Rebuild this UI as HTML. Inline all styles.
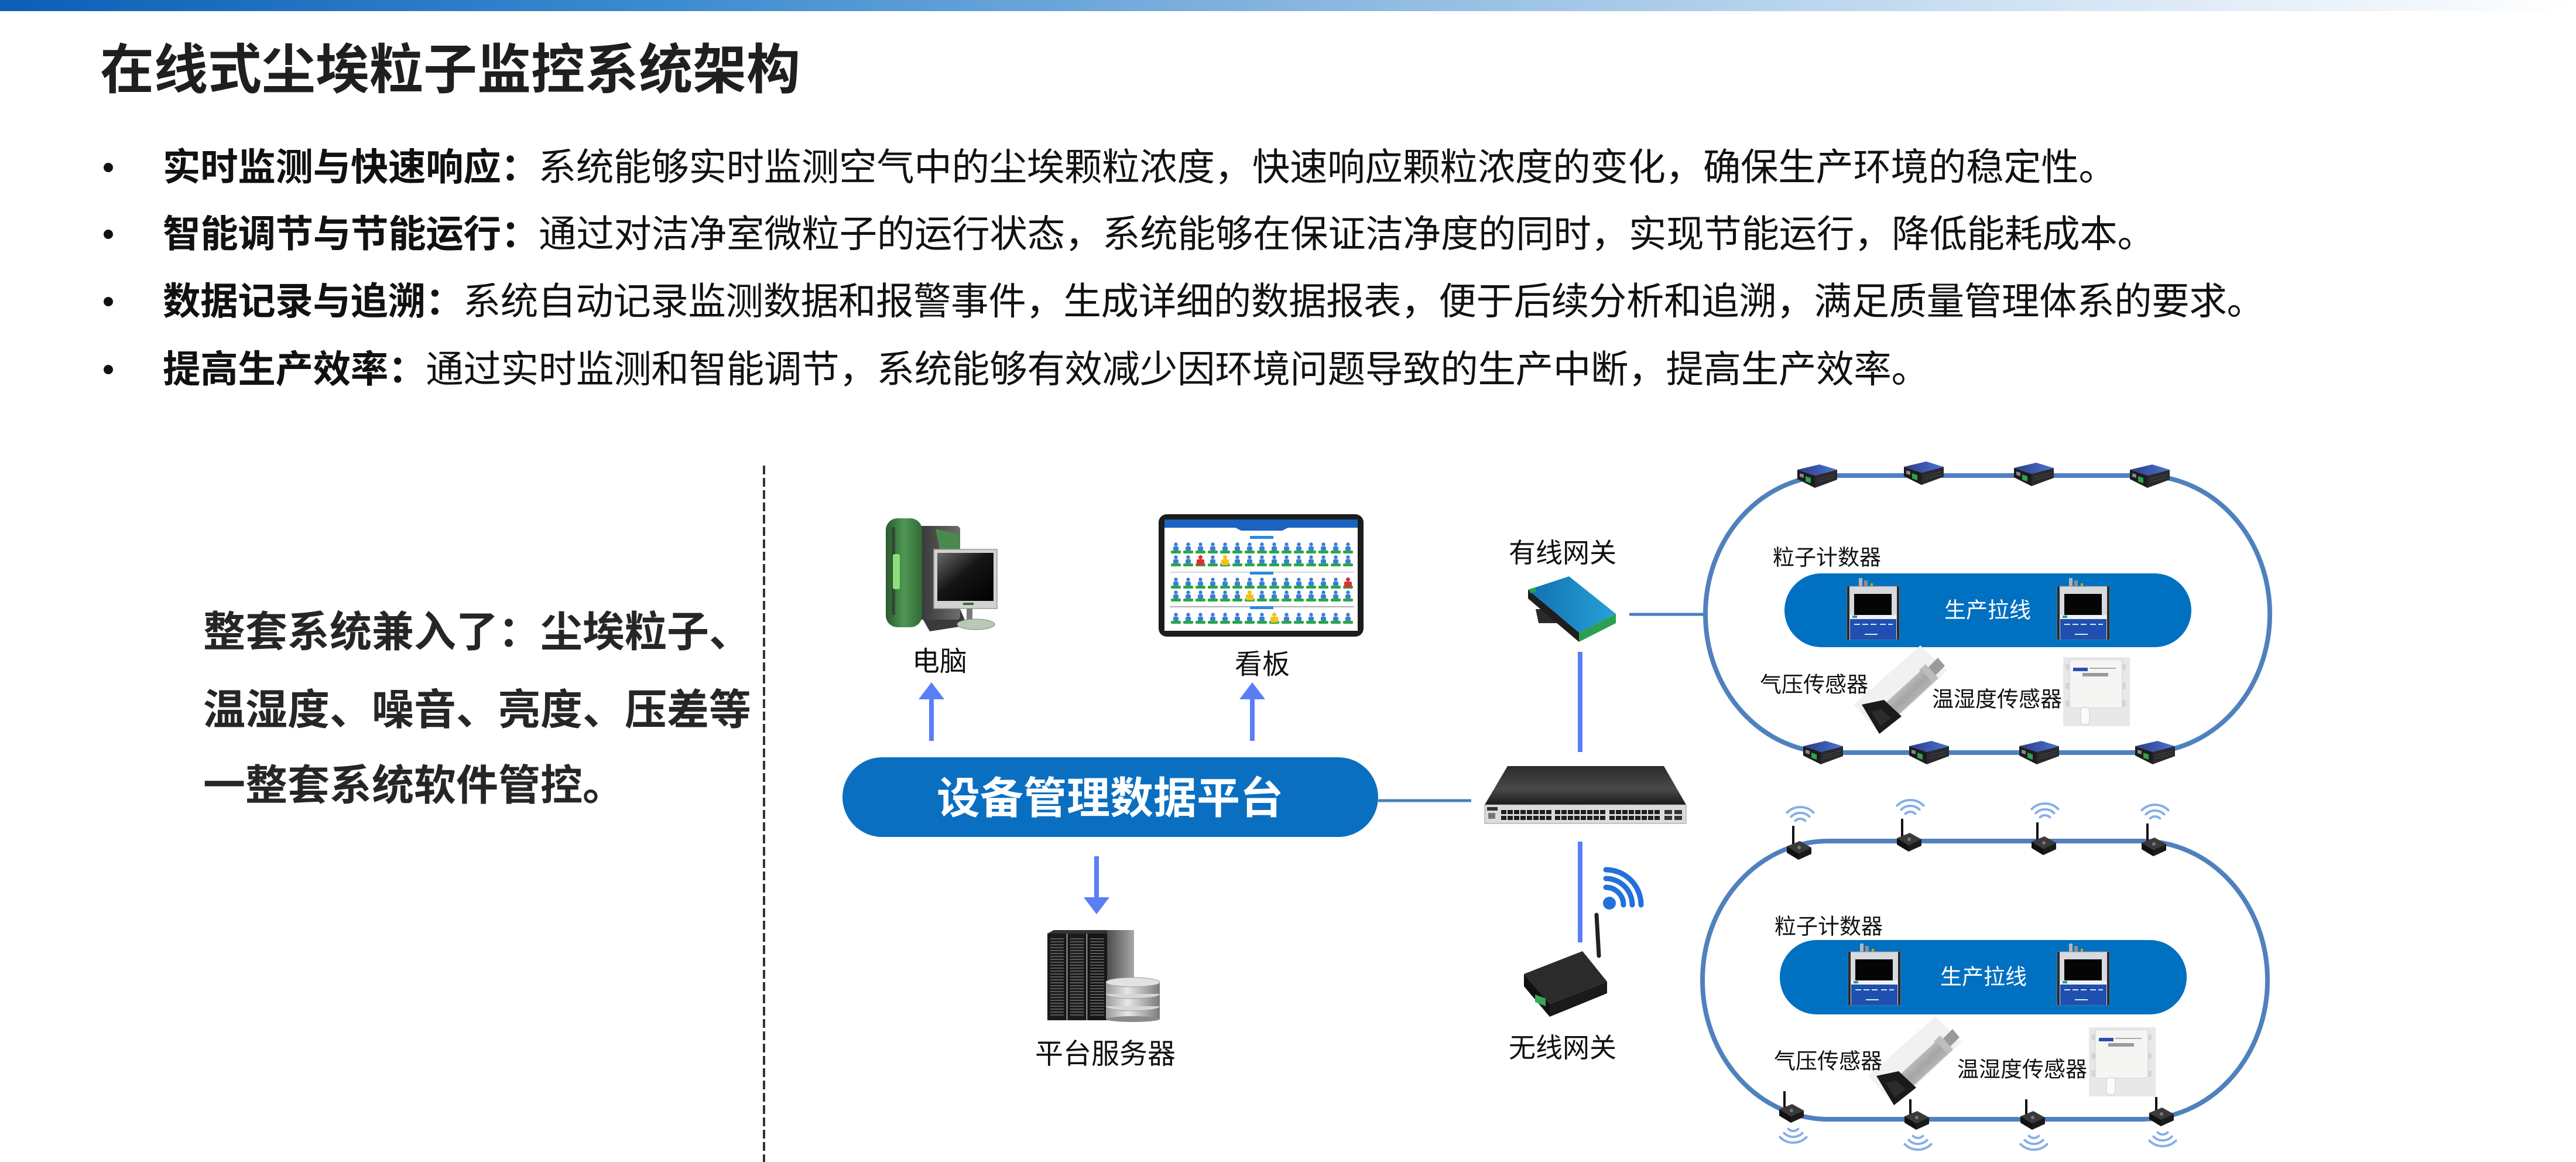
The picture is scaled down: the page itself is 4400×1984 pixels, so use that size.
<!DOCTYPE html>
<html><head><meta charset="utf-8">
<style>
html,body{margin:0;padding:0;background:#fff;}
body{width:4400px;height:1984px;overflow:hidden;}
svg{display:block;}
text{font-family:"Liberation Sans","Noto Sans CJK SC",sans-serif;}
</style></head><body>
<svg width="4400" height="1984" viewBox="0 0 4400 1984" xmlns="http://www.w3.org/2000/svg">
<defs>
 <linearGradient id="topg" x1="0" x2="1" y1="0" y2="0">
  <stop offset="0" stop-color="#0b5fb5"/>
  <stop offset="0.25" stop-color="#3a8ad0"/>
  <stop offset="0.5" stop-color="#86b5df"/>
  <stop offset="0.78" stop-color="#cfe2f3"/>
  <stop offset="1" stop-color="#ffffff"/>
 </linearGradient>
 <linearGradient id="rtTop" x1="0" x2="1" y1="0" y2="0">
  <stop offset="0" stop-color="#2d3b85"/>
  <stop offset="1" stop-color="#4c74d6"/>
 </linearGradient>
 <linearGradient id="greenT" x1="0" x2="1">
  <stop offset="0" stop-color="#2a5a2e"/>
  <stop offset="0.5" stop-color="#4f9655"/>
  <stop offset="1" stop-color="#2f6a34"/>
 </linearGradient>
 <linearGradient id="bodyT" x1="0" x2="1">
  <stop offset="0" stop-color="#2a2a2a"/>
  <stop offset="1" stop-color="#6d6d6d"/>
 </linearGradient>
 <linearGradient id="scr" x1="0" y1="0" x2="1" y2="1">
  <stop offset="0" stop-color="#6a6a6a"/>
  <stop offset="0.45" stop-color="#151515"/>
  <stop offset="1" stop-color="#000"/>
 </linearGradient>
 <linearGradient id="swTop" x1="0" x2="0" y1="0" y2="1">
  <stop offset="0" stop-color="#2a2a2a"/>
  <stop offset="0.6" stop-color="#4a4a4a"/>
  <stop offset="1" stop-color="#1a1a1a"/>
 </linearGradient>
 <linearGradient id="gwTop" x1="0" x2="1" y1="0" y2="0">
  <stop offset="0" stop-color="#1070b0"/>
  <stop offset="1" stop-color="#28a0d8"/>
 </linearGradient>
 <linearGradient id="silver" x1="0" x2="1" y1="0" y2="1">
  <stop offset="0" stop-color="#f2f2f2"/>
  <stop offset="0.5" stop-color="#a5a5a5"/>
  <stop offset="1" stop-color="#dcdcdc"/>
 </linearGradient>
 <linearGradient id="dbS" x1="0" x2="1">
  <stop offset="0" stop-color="#9a9a9a"/>
  <stop offset="0.4" stop-color="#e8e8e8"/>
  <stop offset="1" stop-color="#7a7a7a"/>
 </linearGradient>
 <linearGradient id="srvSide" x1="0" x2="1">
  <stop offset="0" stop-color="#4d4d4d"/>
  <stop offset="1" stop-color="#a8a8a8"/>
 </linearGradient>
 <pattern id="fig" width="21" height="22" patternUnits="userSpaceOnUse">
  <circle cx="10.5" cy="4.5" r="3.2" fill="#3b7dd8"/>
  <rect x="6" y="8" width="9" height="7" rx="2" fill="#3b7dd8"/>
  <rect x="2" y="15" width="17" height="5" rx="2" fill="#27a844"/>
 </pattern>
 <pattern id="port" width="11" height="10" patternUnits="userSpaceOnUse">
  <rect x="1" y="1" width="9" height="7" fill="#1e1e1e"/>
 </pattern>
 <pattern id="grill" width="6" height="5" patternUnits="userSpaceOnUse">
  <rect x="0" y="0" width="6" height="2" fill="#5a5a5a"/>
 </pattern>
 <g id="rt">
  <polygon points="2,10 32,20 32,41 2,26" fill="#1c1c1e"/>
  <polygon points="32,20 70,10 70,27 32,41" fill="#2a2a2e"/>
  <polygon points="2,10 40,1 70,10 32,20" fill="url(#rtTop)"/>
  <polygon points="6,16 13,18 13,24 6,22" fill="#888"/>
  <polygon points="16,21 25,24 25,33 16,30" fill="#2fa24a"/>
  <line x1="36" y1="26" x2="66" y2="18" stroke="#4a4a4a" stroke-width="1"/>
  <line x1="36" y1="31" x2="66" y2="23" stroke="#4a4a4a" stroke-width="1"/>
 </g>
 <g id="wn">
  <polygon points="-20,-5 2,-14 22,-3 0,7" fill="#3a3a3a"/>
  <polygon points="-20,-5 0,7 0,18 -20,6" fill="#111"/>
  <polygon points="0,7 22,-3 22,8 0,18" fill="#1b1b1b"/>
  <circle cx="1" cy="-3" r="3" fill="#777"/>
 </g>
 <g id="wu" fill="none" stroke="#86aee8" stroke-width="4" stroke-linecap="round">
  <path d="M -8.5,-8.5 A 12 12 0 0 1 8.5,-8.5"/>
  <path d="M -15.6,-15.6 A 22 22 0 0 1 15.6,-15.6"/>
  <path d="M -22.6,-22.6 A 32 32 0 0 1 22.6,-22.6"/>
 </g>
 <g id="wd" fill="none" stroke="#86aee8" stroke-width="4" stroke-linecap="round">
  <path d="M -8.5,8.5 A 12 12 0 0 0 8.5,8.5"/>
  <path d="M -15.6,15.6 A 22 22 0 0 0 15.6,15.6"/>
  <path d="M -22.6,22.6 A 32 32 0 0 0 22.6,22.6"/>
 </g>
 <g id="pc">
  <rect x="20" y="0" width="6" height="16" fill="#b5b5b5"/>
  <rect x="29" y="4" width="6" height="12" fill="#8f8f8f"/>
  <rect x="40" y="9" width="4" height="7" fill="#c9a227"/>
  <rect x="0" y="14" width="89" height="91" fill="#d6d9de" stroke="#888" stroke-width="1"/>
  <rect x="0" y="14" width="4" height="91" fill="#2a2a2a"/>
  <rect x="85" y="14" width="4" height="91" fill="#2a2a2a"/>
  <rect x="12" y="27" width="64" height="36" fill="#050505"/>
  <rect x="5" y="63" width="79" height="7" fill="#eef2f8"/>
  <rect x="9" y="64" width="8" height="4" fill="#2a9a8a"/>
  <rect x="5" y="70" width="79" height="35" fill="#1f4fb0"/>
  <g fill="#dfe6f5">
   <rect x="12" y="78" width="10" height="2"/><rect x="26" y="78" width="10" height="2"/><rect x="40" y="78" width="10" height="2"/><rect x="56" y="78" width="10" height="2"/><rect x="70" y="78" width="8" height="2"/>
   <rect x="30" y="95" width="22" height="2"/>
  </g>
 </g>
 <g id="hs">
  <rect x="0" y="0" width="114" height="118" fill="#e8e8ea"/>
  <rect x="4" y="12" width="8" height="10" fill="#d5d5d5"/>
  <rect x="4" y="44" width="8" height="10" fill="#d5d5d5"/>
  <rect x="4" y="74" width="8" height="10" fill="#d5d5d5"/>
  <rect x="99" y="12" width="8" height="10" fill="#d5d5d5"/>
  <rect x="99" y="44" width="8" height="10" fill="#d5d5d5"/>
  <rect x="99" y="74" width="8" height="10" fill="#d5d5d5"/>
  <rect x="11" y="4" width="90" height="83" rx="4" fill="#f5f5f3" stroke="#cfcfcf"/>
  <rect x="17" y="18" width="25" height="6" fill="#2a4fb0"/>
  <rect x="45" y="18" width="45" height="2" fill="#aaa"/>
  <rect x="33" y="27" width="44" height="6" fill="#9a9a9a"/>
  <rect x="30" y="86" width="15" height="29" rx="5" fill="#fbfbfb" stroke="#cccccc"/>
 </g>
 <g id="ps">
  <polygon points="3280,1102 3326,1145 3212,1254 3166,1203" fill="#f1f1f1"/>
  <polygon points="3310,1123 3322,1137 3306,1153 3294,1139" fill="#9a9a9a"/>
  <polygon points="3289,1134 3311,1158 3300,1168 3278,1144" fill="#bdbdbd"/>
  <polygon points="3282,1144 3302,1166 3242,1221 3222,1199" fill="url(#silver)"/>
  <polygon points="3180,1203 3218,1195 3248,1223 3210,1253" fill="#1a1a1a"/>
  <polygon points="3196,1215 3214,1211 3230,1226 3212,1240" fill="#2c2c2c"/>
 </g>
</defs>

<!-- top bar -->
<rect x="0" y="0" width="4400" height="19" fill="url(#topg)"/>

<!-- title -->
<text x="171" y="120" font-size="92" font-weight="700" fill="#1f1f1f" dominant-baseline="central">在线式尘埃粒子监控系统架构</text>

<!-- bullets -->
<g fill="#111">
 <circle cx="185" cy="286" r="8"/>
 <circle cx="185" cy="400" r="8"/>
 <circle cx="185" cy="515" r="8"/>
 <circle cx="185" cy="631" r="8"/>
</g>
<text x="278" y="286" font-size="64.5" fill="#111" dominant-baseline="central" textLength="3337" lengthAdjust="spacing"><tspan font-weight="700">实时监测与快速响应：</tspan>系统能够实时监测空气中的尘埃颗粒浓度，快速响应颗粒浓度的变化，确保生产环境的稳定性。</text>
<text x="278" y="400" font-size="64.5" fill="#111" dominant-baseline="central" textLength="3403" lengthAdjust="spacing"><tspan font-weight="700">智能调节与节能运行：</tspan>通过对洁净室微粒子的运行状态，系统能够在保证洁净度的同时，实现节能运行，降低能耗成本。</text>
<text x="278" y="515" font-size="64.5" fill="#111" dominant-baseline="central" textLength="3590" lengthAdjust="spacing"><tspan font-weight="700">数据记录与追溯：</tspan>系统自动记录监测数据和报警事件，生成详细的数据报表，便于后续分析和追溯，满足质量管理体系的要求。</text>
<text x="278" y="631" font-size="64.5" fill="#111" dominant-baseline="central" textLength="3017" lengthAdjust="spacing"><tspan font-weight="700">提高生产效率：</tspan>通过实时监测和智能调节，系统能够有效减少因环境问题导致的生产中断，提高生产效率。</text>

<!-- left block text -->
<text x="347" y="1080" font-size="72" font-weight="700" fill="#262626" dominant-baseline="central">整套系统兼入了：尘埃粒子、</text>
<text x="347" y="1213" font-size="72" font-weight="700" fill="#262626" dominant-baseline="central">温湿度、噪音、亮度、压差等</text>
<text x="347" y="1342" font-size="72" font-weight="700" fill="#262626" dominant-baseline="central">一整套系统软件管控。</text>

<!-- dashed divider -->
<line x1="1305" y1="795" x2="1305" y2="1984" stroke="#333" stroke-width="4" stroke-dasharray="15 6"/>

<!-- computer -->
<polygon points="1575,1055 1640,1040 1652,1068 1588,1078" fill="#3a3a3a"/>
<rect x="1556" y="898" width="84" height="160" rx="6" fill="url(#bodyT)"/>
<polygon points="1598,903 1638,912 1640,948 1606,942" fill="#4b8a4f"/>
<rect x="1513" y="885" width="62" height="186" rx="20" fill="url(#greenT)"/>
<rect x="1523" y="900" width="6" height="150" fill="#2b2b2b" opacity="0.6"/>
<rect x="1525" y="946" width="12" height="60" rx="3" fill="#8be07a"/>
<rect x="1595" y="938" width="108" height="101" fill="#d2d2d2" stroke="#9a9a9a" stroke-width="1.5"/>
<rect x="1601" y="944" width="96" height="82" fill="url(#scr)"/>
<rect x="1645" y="1029" width="18" height="4" fill="#3a6a3a"/>
<rect x="1651" y="1039" width="10" height="24" fill="#7a7a7a"/>
<ellipse cx="1667" cy="1066" rx="32" ry="9" fill="#b8c9b6" stroke="#7a8a7a"/>
<text x="1605" y="1129" font-size="47" fill="#111" text-anchor="middle" dominant-baseline="central">电脑</text>

<!-- tablet -->
<rect x="1979" y="878" width="350" height="209" rx="14" fill="#1c1c1c"/>
<rect x="1989" y="887" width="330" height="190" fill="#ffffff"/>
<rect x="1989" y="887" width="330" height="14" fill="#1a63c0"/>
<polygon points="2110,901 2200,901 2190,906 2120,906" fill="#1a63c0"/>
<rect x="2135" y="915" width="40" height="5" fill="#2a8ae0"/>
<line x1="1998" y1="977" x2="2313" y2="977" stroke="#c8c8c8" stroke-width="1.5"/>
<rect x="2135" y="976" width="40" height="5" fill="#2a8ae0"/>
<line x1="1998" y1="1036" x2="2313" y2="1036" stroke="#b0b0b0" stroke-width="2"/>
<rect x="2135" y="1035" width="40" height="5" fill="#2a8ae0"/>
<g transform="translate(1998,925)"><rect width="315" height="44" fill="url(#fig)"/></g>
<g transform="translate(1998,985)"><rect width="315" height="44" fill="url(#fig)"/></g>
<g transform="translate(1998,1045)"><rect width="315" height="22" fill="url(#fig)"/></g>
<g fill="#d83030"><circle cx="2050.5" cy="951.5" r="3.5"/><rect x="2044" y="955" width="13" height="10" rx="2"/></g>
<g fill="#f2c21a"><circle cx="2092.5" cy="951.5" r="3.5"/><rect x="2086" y="955" width="13" height="10" rx="2"/></g>
<g fill="#f2c21a"><circle cx="2134.5" cy="1011.5" r="3.5"/><rect x="2128" y="1015" width="13" height="10" rx="2"/></g>
<g fill="#d83030"><circle cx="2302.5" cy="989.5" r="3.5"/><rect x="2296" y="993" width="13" height="10" rx="2"/></g>
<g fill="#f2c21a"><circle cx="2176.5" cy="1049.5" r="3.5"/><rect x="2170" y="1053" width="13" height="10" rx="2"/></g>
<text x="2156" y="1134" font-size="47" fill="#111" text-anchor="middle" dominant-baseline="central">看板</text>

<!-- arrows -->
<g fill="#5a7ef5">
 <polygon points="1591,1165 1613,1194 1569,1194"/>
 <rect x="1587" y="1190" width="8" height="75"/>
 <polygon points="2139,1165 2161,1194 2117,1194"/>
 <rect x="2135" y="1190" width="8" height="75"/>
 <rect x="1869" y="1462" width="8" height="72"/>
 <polygon points="1851,1532 1895,1532 1873,1561"/>
</g>

<!-- platform pill -->
<rect x="1439" y="1293" width="915" height="136" rx="68" ry="68" fill="#0a6fc1"/>
<text x="1896" y="1363" font-size="74" font-weight="700" fill="#ffffff" text-anchor="middle" dominant-baseline="central">设备管理数据平台</text>
<line x1="2354" y1="1367" x2="2513" y2="1367" stroke="#4a7ebb" stroke-width="5"/>

<!-- server -->
<polygon points="1789,1594 1800,1588 1891,1588 1891,1594" fill="#333"/>
<rect x="1891" y="1588" width="46" height="154" fill="url(#srvSide)"/>
<rect x="1789" y="1594" width="33" height="148" fill="#1a1a1a"/>
<rect x="1823" y="1594" width="33" height="148" fill="#1c1c1c"/>
<rect x="1857" y="1594" width="34" height="148" fill="#161616"/>
<g transform="translate(1794,1602)"><rect width="23" height="132" fill="url(#grill)"/></g>
<g transform="translate(1828,1602)"><rect width="23" height="132" fill="url(#grill)"/></g>
<g transform="translate(1862,1602)"><rect width="24" height="132" fill="url(#grill)"/></g>
<rect x="1889" y="1718" width="92" height="22" fill="url(#dbS)"/>
<ellipse cx="1935" cy="1740" rx="46" ry="5" fill="#8a8a8a"/>
<ellipse cx="1935" cy="1718" rx="46" ry="8" fill="#d6d6d6" stroke="#999"/>
<rect x="1889" y="1697" width="92" height="21" fill="url(#dbS)"/>
<ellipse cx="1935" cy="1697" rx="46" ry="8" fill="#d6d6d6" stroke="#999"/>
<rect x="1889" y="1677" width="92" height="20" fill="url(#dbS)"/>
<ellipse cx="1935" cy="1677" rx="46" ry="8" fill="#e2e2e2" stroke="#999"/>
<text x="1888" y="1800" font-size="48" fill="#111" text-anchor="middle" dominant-baseline="central">平台服务器</text>

<!-- wired gateway -->
<text x="2669" y="944" font-size="46" fill="#111" text-anchor="middle" dominant-baseline="central">有线网关</text>
<polygon points="2623,1040 2660,1040 2664,1064 2628,1064" fill="#2a2a2a"/>
<polygon points="2610,1007 2697,1080 2697,1096 2610,1022" fill="#1e1e1e"/>
<polygon points="2697,1080 2760,1048 2760,1064 2697,1096" fill="#2aa050"/>
<polygon points="2610,1007 2680,984 2760,1048 2697,1080" fill="url(#gwTop)"/>
<polygon points="2612,1006 2622,1003 2624,1010 2614,1013" fill="#2aa050"/>
<line x1="2783" y1="1049" x2="2913" y2="1049" stroke="#4a7ebb" stroke-width="5"/>

<!-- vertical connectors -->
<rect x="2695" y="1113" width="8" height="171" fill="#5a7ef5"/>
<rect x="2695" y="1437" width="8" height="172" fill="#5a7ef5"/>

<!-- switch -->
<polygon points="2536,1374 2575,1308 2842,1308 2880,1374" fill="url(#swTop)"/>
<rect x="2536" y="1374" width="344" height="32" fill="#dcdcdc" stroke="#9a9a9a" stroke-width="1"/>
<rect x="2540" y="1378" width="18" height="6" fill="#333"/>
<rect x="2542" y="1388" width="12" height="10" fill="#777"/>
<g transform="translate(2563,1382)"><rect width="88" height="20" fill="url(#port)"/></g>
<g transform="translate(2655,1382)"><rect width="88" height="20" fill="url(#port)"/></g>
<g transform="translate(2748,1382)"><rect width="88" height="20" fill="url(#port)"/></g>
<rect x="2843" y="1383" width="13" height="7" fill="#333"/>
<rect x="2860" y="1383" width="13" height="7" fill="#333"/>
<rect x="2843" y="1393" width="13" height="7" fill="#333"/>
<rect x="2860" y="1393" width="13" height="7" fill="#333"/>

<!-- wifi icon -->
<g fill="none" stroke="#2270dc" stroke-width="9" stroke-linecap="round">
 <path d="M 2743,1515 A 30 30 0 0 1 2773,1545"/>
 <path d="M 2743,1500 A 45 45 0 0 1 2788,1545"/>
 <path d="M 2743,1485 A 60 60 0 0 1 2803,1545"/>
</g>
<circle cx="2749" cy="1542" r="11" fill="#2270dc"/>

<!-- wireless gateway -->
<line x1="2727" y1="1562" x2="2731" y2="1632" stroke="#222" stroke-width="7" stroke-linecap="round"/>
<polygon points="2603,1663 2647,1714 2647,1736 2603,1684" fill="#111"/>
<polygon points="2647,1714 2745,1676 2745,1696 2647,1736" fill="#1a1a1a"/>
<polygon points="2603,1663 2703,1624 2745,1676 2647,1714" fill="#2b2b2b"/>
<polygon points="2622,1698 2640,1705 2640,1718 2622,1711" fill="#3aa655"/>
<text x="2669" y="1789" font-size="46" fill="#111" text-anchor="middle" dominant-baseline="central">无线网关</text>

<!-- TOP OVAL -->
<rect x="2913" y="812" width="964" height="473" rx="215" ry="236" fill="none" stroke="#4f81bd" stroke-width="8"/>
<use href="#rt" x="3068" y="792"/>
<use href="#rt" x="3250" y="787"/>
<use href="#rt" x="3438" y="789"/>
<use href="#rt" x="3636" y="792"/>
<use href="#rt" x="3078" y="1264"/>
<use href="#rt" x="3259" y="1264"/>
<use href="#rt" x="3447" y="1264"/>
<use href="#rt" x="3645" y="1264"/>
<text x="3028" y="952" font-size="37" fill="#111" dominant-baseline="central">粒子计数器</text>
<rect x="3048" y="979" width="695" height="126" rx="63" ry="63" fill="#0070c0"/>
<use href="#pc" x="3155" y="987"/>
<use href="#pc" x="3514" y="987"/>
<text x="3395" y="1042" font-size="37" fill="#ffffff" text-anchor="middle" dominant-baseline="central">生产拉线</text>
<use href="#ps"/>
<text x="3006" y="1169" font-size="37" fill="#111" dominant-baseline="central">气压传感器</text>
<text x="3300" y="1194" font-size="37" fill="#111" dominant-baseline="central">温湿度传感器</text>
<use href="#hs" x="3524" y="1122"/>

<!-- BOTTOM OVAL -->
<rect x="2908" y="1436" width="965" height="475" rx="215" ry="237" fill="none" stroke="#4f81bd" stroke-width="8"/>
<g stroke="#111" stroke-width="4">
 <line x1="3063" y1="1444" x2="3063" y2="1410"/>
 <line x1="3249" y1="1430" x2="3249" y2="1398"/>
 <line x1="3480" y1="1436" x2="3480" y2="1404"/>
 <line x1="3668" y1="1438" x2="3668" y2="1406"/>
 <line x1="3048" y1="1893" x2="3048" y2="1863"/>
 <line x1="3263" y1="1905" x2="3263" y2="1877"/>
 <line x1="3461" y1="1905" x2="3461" y2="1877"/>
 <line x1="3683" y1="1899" x2="3683" y2="1873"/>
</g>
<use href="#wn" x="3072" y="1450"/>
<use href="#wn" x="3260" y="1436"/>
<use href="#wn" x="3490" y="1442"/>
<use href="#wn" x="3678" y="1444"/>
<use href="#wn" x="3059" y="1899"/>
<use href="#wn" x="3273" y="1911"/>
<use href="#wn" x="3471" y="1911"/>
<use href="#wn" x="3691" y="1905"/>
<use href="#wu" x="3075" y="1410"/>
<use href="#wu" x="3263" y="1398"/>
<use href="#wu" x="3493" y="1404"/>
<use href="#wu" x="3681" y="1406"/>
<use href="#wd" x="3063" y="1919"/>
<use href="#wd" x="3276" y="1931"/>
<use href="#wd" x="3474" y="1931"/>
<use href="#wd" x="3694" y="1925"/>
<text x="3031" y="1582" font-size="37" fill="#111" dominant-baseline="central">粒子计数器</text>
<rect x="3040" y="1605" width="695" height="127" rx="63" ry="63" fill="#0070c0"/>
<use href="#pc" x="3157" y="1611"/>
<use href="#pc" x="3514" y="1611"/>
<text x="3388" y="1668" font-size="37" fill="#ffffff" text-anchor="middle" dominant-baseline="central">生产拉线</text>
<g transform="translate(25,634)"><use href="#ps"/></g>
<text x="3030" y="1812" font-size="37" fill="#111" dominant-baseline="central">气压传感器</text>
<text x="3343" y="1826" font-size="37" fill="#111" dominant-baseline="central">温湿度传感器</text>
<use href="#hs" x="3568" y="1754"/>
</svg>
</body></html>
